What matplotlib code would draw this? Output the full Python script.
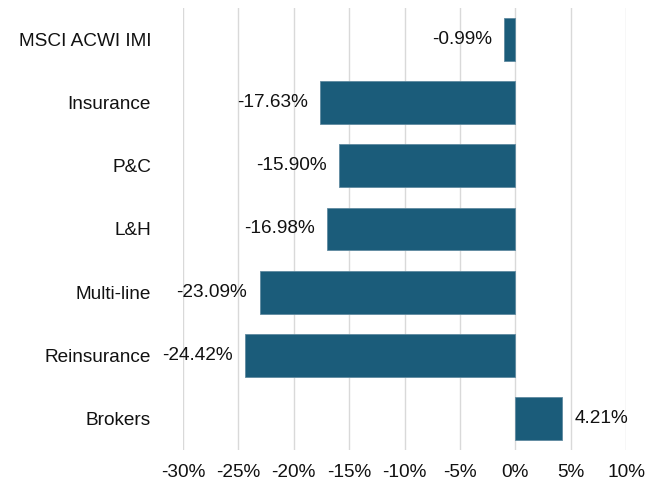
import matplotlib
matplotlib.use("Agg")
import matplotlib.pyplot as plt
from matplotlib.ticker import FuncFormatter

categories = ["MSCI ACWI IMI", "Insurance", "P&C", "L&H", "Multi-line", "Reinsurance", "Brokers"]
values = [-0.99, -17.63, -15.90, -16.98, -23.09, -24.42, 4.21]
xticks = [-30, -25, -20, -15, -10, -5, 0, 5, 10]

plt.rcParams['font.family'] = ['Liberation Sans', 'DejaVu Sans']

fig = plt.figure(figsize=(6.6, 4.87), dpi=100)
ax = fig.add_axes([0.2773, 0.076, 0.9485 - 0.2773, 0.9836 - 0.076])

fs = 13.7
color = "#1b5c7a"
ypos = list(range(len(categories)))
bars = ax.barh(ypos, values, height=0.68, color=color, edgecolor="#5f8aa0", linewidth=0.6, zorder=3)
for b, v in zip(bars, values):
    ax.annotate(f"{v:.2f}%", xy=(v, b.get_y() + b.get_height() / 2),
                xytext=(9 if v >= 0 else -9, 0), textcoords="offset points",
                ha="left" if v >= 0 else "right", va="center", fontsize=fs, color="#111111")

ax.set_xlim(-30, 10)
ax.set_ylim(len(categories) - 0.5, -0.5)
ax.set_xticks(xticks)
ax.xaxis.set_major_formatter(FuncFormatter(lambda x, p: f"{x:.0f}%"))
ax.set_yticks(ypos)
ax.set_yticklabels(categories)
ax.tick_params(axis="both", length=0, labelsize=fs, colors="#111111")
ax.tick_params(axis="y", pad=23)
ax.tick_params(axis="x", pad=10)
ax.grid(axis="x", color="#d9d9d9", linewidth=1, zorder=0)
for s in ax.spines.values():
    s.set_visible(False)

fig.savefig("out.png", dpi=100)
